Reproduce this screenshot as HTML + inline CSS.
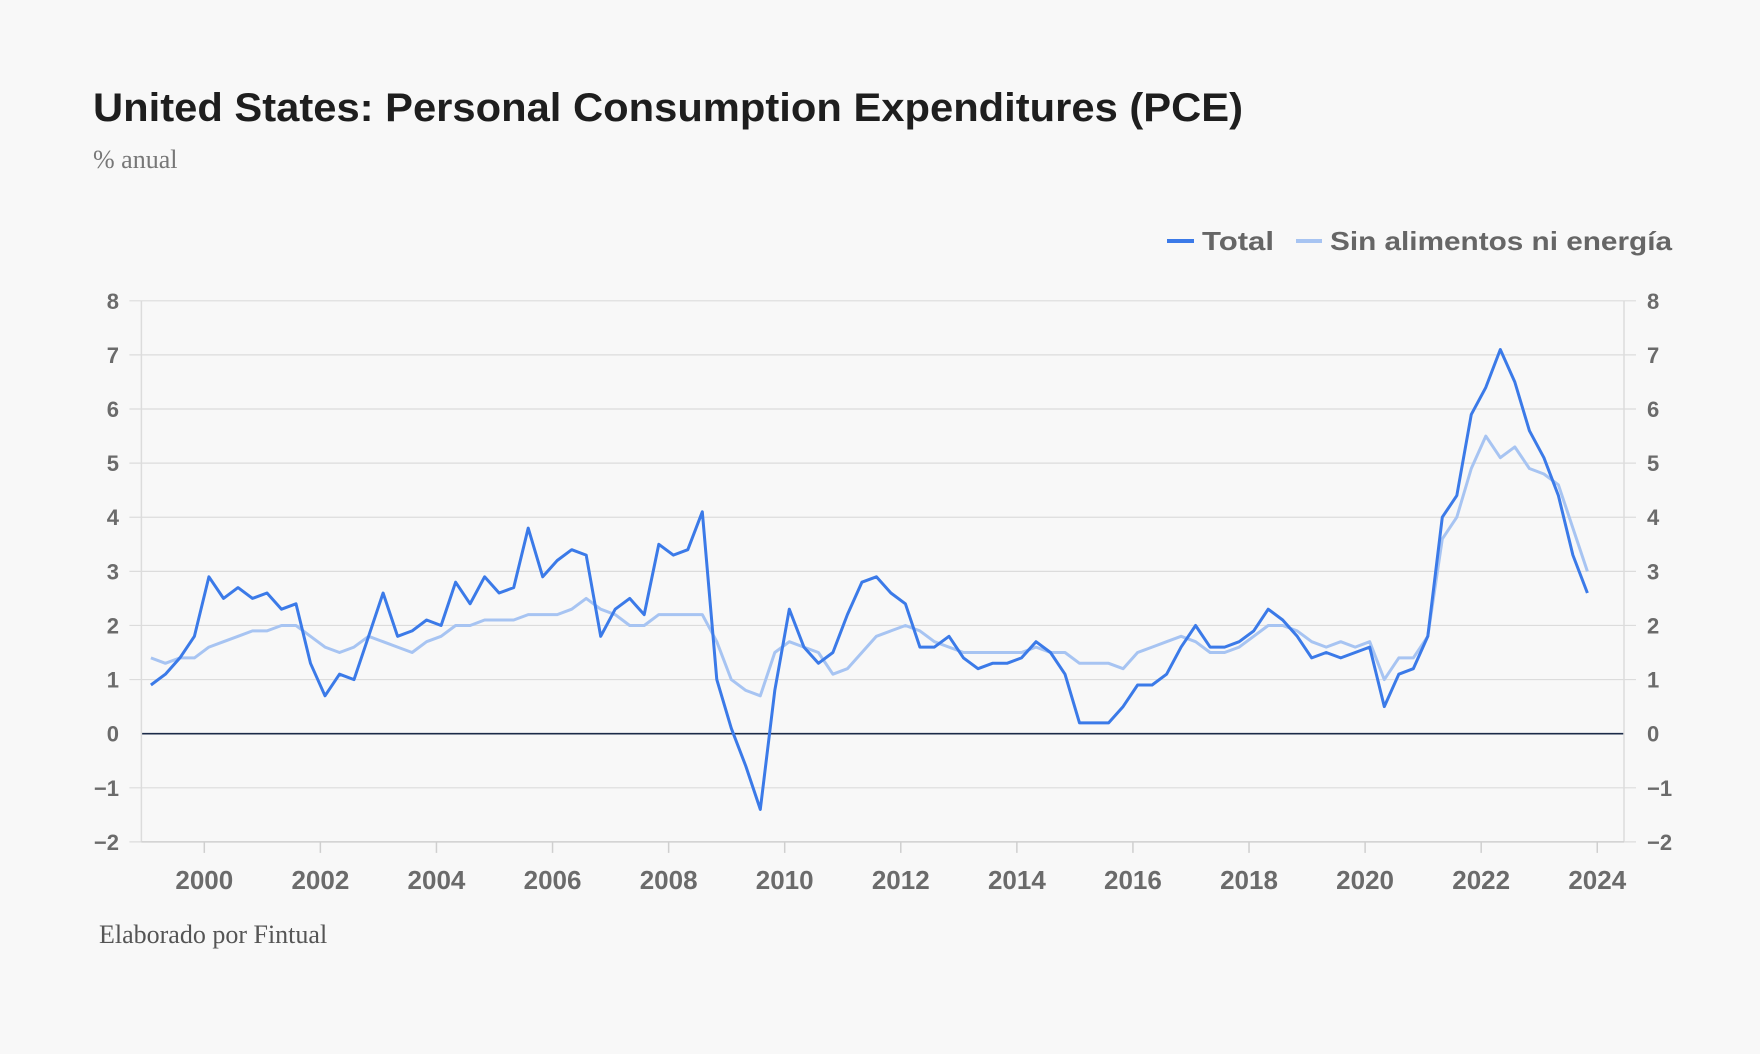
<!DOCTYPE html>
<html><head><meta charset="utf-8"><style>
html,body{margin:0;padding:0;background:#f8f8f8;}
svg{display:block;}
</style></head><body>
<svg id="chart" width="1760" height="1054" xmlns="http://www.w3.org/2000/svg">
<rect x="0" y="0" width="1760" height="1054" fill="#f8f8f8"/>
<text x="93" y="121" font-family="Liberation Sans, sans-serif" font-weight="bold" font-size="40" fill="#1e1e1e" textLength="1150" lengthAdjust="spacingAndGlyphs">United States: Personal Consumption Expenditures (PCE)</text>
<text x="93" y="168" font-family="Liberation Serif, serif" font-size="26" fill="#777">% anual</text>
<g>
<g>
<line x1="1167" y1="241" x2="1194" y2="241" stroke="#3b7ae8" stroke-width="4"/>
<text x="1202" y="250" font-family="Liberation Sans, sans-serif" font-weight="bold" font-size="26" fill="#666" textLength="72" lengthAdjust="spacingAndGlyphs">Total</text>
</g>
<g>
<line x1="1296" y1="241" x2="1322" y2="241" stroke="#a7c4f2" stroke-width="4"/>
<text x="1330" y="250" font-family="Liberation Sans, sans-serif" font-weight="bold" font-size="26" fill="#666" textLength="342" lengthAdjust="spacingAndGlyphs">Sin alimentos ni energía</text>
</g>
</g>
<g id="grid"></g>
<g id="axes"></g>
<g id="series"></g>
<text x="99" y="943" font-family="Liberation Serif, serif" font-size="26" fill="#555">Elaborado por Fintual</text>
</svg>
<script>
const startYear = 1999.08;
const yTicks = [-2,-1,0,1,2,3,4,5,6,7,8];
const xTickYears = [2000,2002,2004,2006,2008,2010,2012,2014,2016,2018,2020,2022,2024];
const totalQ = [0.9,1.1,1.4,1.8, 2.9,2.5,2.7,2.5, 2.6,2.3,2.4,1.3, 0.7,1.1,1.0,1.8, 2.6,1.8,1.9,2.1, 2.0,2.8,2.4,2.9, 2.6,2.7,3.8,2.9, 3.2,3.4,3.3,1.8, 2.3,2.5,2.2,3.5, 3.3,3.4,4.1,1.0, 0.1,-0.6,-1.4,0.8, 2.3,1.6,1.3,1.5, 2.2,2.8,2.9,2.6, 2.4,1.6,1.6,1.8, 1.4,1.2,1.3,1.3, 1.4,1.7,1.5,1.1, 0.2,0.2,0.2,0.5, 0.9,0.9,1.1,1.6, 2.0,1.6,1.6,1.7, 1.9,2.3,2.1,1.8, 1.4,1.5,1.4,1.5, 1.6,0.5,1.1,1.2, 1.8,4.0,4.4,5.9, 6.4,7.1,6.5,5.6, 5.1,4.4,3.3,2.6];
const coreQ = [1.4,1.3,1.4,1.4, 1.6,1.7,1.8,1.9, 1.9,2.0,2.0,1.8, 1.6,1.5,1.6,1.8, 1.7,1.6,1.5,1.7, 1.8,2.0,2.0,2.1, 2.1,2.1,2.2,2.2, 2.2,2.3,2.5,2.3, 2.2,2.0,2.0,2.2, 2.2,2.2,2.2,1.7, 1.0,0.8,0.7,1.5, 1.7,1.6,1.5,1.1, 1.2,1.5,1.8,1.9, 2.0,1.9,1.7,1.6, 1.5,1.5,1.5,1.5, 1.5,1.6,1.5,1.5, 1.3,1.3,1.3,1.2, 1.5,1.6,1.7,1.8, 1.7,1.5,1.5,1.6, 1.8,2.0,2.0,1.9, 1.7,1.6,1.7,1.6, 1.7,1.0,1.4,1.4, 1.8,3.6,4.0,4.9, 5.5,5.1,5.3,4.9, 4.8,4.6,3.8,3.0];

const NS = 'http://www.w3.org/2000/svg';
const L = 141.4, R = 1624, T = 300.8, B = 841.9;
function xScale(yr){ return 204.3 + (yr - 2000) * 58.04; }
function yScale(v){ return B - (v + 2) / 10 * (B - T); }
function mk(tag, attrs, parent){ const e = document.createElementNS(NS, tag); for (const k in attrs) e.setAttribute(k, attrs[k]); parent.appendChild(e); return e; }
const grid = document.getElementById('grid'), axes = document.getElementById('axes'), series = document.getElementById('series');
yTicks.forEach(v => {
  const y = yScale(v);
  const g = mk('line', {x1: L - 12, x2: R + 12, y1: y, y2: y, stroke: v === 0 ? '#1c2b48' : '#dcdcdc', 'stroke-width': v === 0 ? 1.6 : 1.2}, grid);
  
  
  if (v === 0) { g.setAttribute('x1', L); g.setAttribute('x2', R); }
  const lab = v < 0 ? '\u2212' + Math.abs(v) : String(v);
  const t1 = mk('text', {x: 119, y: y + 8, 'text-anchor': 'end', 'font-family': 'Liberation Sans, sans-serif', 'font-weight': 'bold', 'font-size': 22, fill: '#6b6b6b'}, axes);
  t1.textContent = lab;
  
  
  const t2 = mk('text', {x: 1647, y: y + 8, 'font-family': 'Liberation Sans, sans-serif', 'font-weight': 'bold', 'font-size': 22, fill: '#6b6b6b'}, axes);
  t2.textContent = lab;
  
  
});
[L, R].forEach(x => {
  const a = mk('line', {x1: x, x2: x, y1: T, y2: B, stroke: '#dcdcdc', 'stroke-width': 1.5}, grid);
  
  
});
const xb = mk('line', {x1: L, x2: R, y1: B, y2: B, stroke: '#d0d0d0', 'stroke-width': 1.5}, axes);


xTickYears.forEach(yr => {
  const x = xScale(yr);
  const tk = mk('line', {x1: x, x2: x, y1: B, y2: B + 11, stroke: '#cfcfcf', 'stroke-width': 1.5}, axes);
  
  
  const t = mk('text', {x: x, y: 889, 'text-anchor': 'middle', 'font-family': 'Liberation Sans, sans-serif', 'font-weight': 'bold', 'font-size': 26, fill: '#6b6b6b'}, axes);
  t.textContent = yr;
  
  
});
function path(vals){ return vals.map((v, i) => (i ? 'L' : 'M') + xScale(startYear + i * 0.25).toFixed(1) + ',' + yScale(v).toFixed(1)).join(' '); }
const pc = mk('path', {d: path(coreQ), fill: 'none', stroke: '#a7c4f2', 'stroke-width': 3, 'stroke-linejoin': 'round'}, series);


const pt = mk('path', {d: path(totalQ), fill: 'none', stroke: '#3b7ae8', 'stroke-width': 3, 'stroke-linejoin': 'round'}, series);


</script>
</body></html>
